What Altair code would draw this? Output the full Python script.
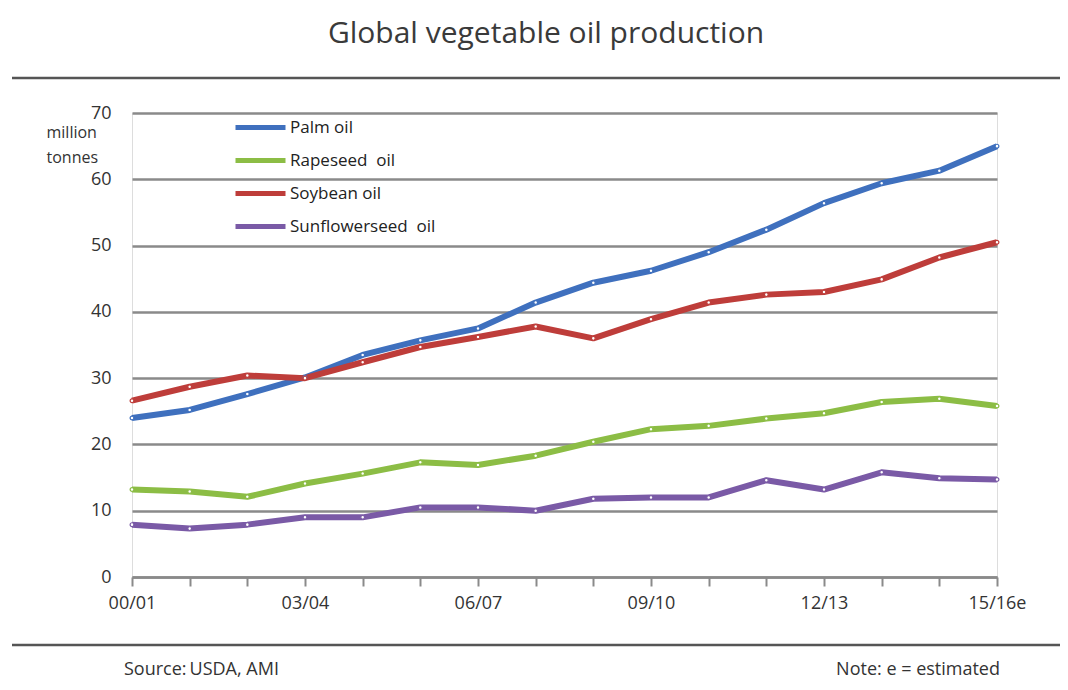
import altair as alt
import pandas as pd

seasons = ["00/01", "01/02", "02/03", "03/04", "04/05", "05/06", "06/07", "07/08",
           "08/09", "09/10", "10/11", "11/12", "12/13", "13/14", "14/15", "15/16e"]
palm = [24.0, 25.2, 27.6, 30.1, 33.5, 35.7, 37.5, 41.4, 44.4, 46.2, 49.0, 52.4, 56.4, 59.4, 61.3, 65.0]
rapeseed = [13.2, 12.9, 12.1, 14.1, 15.6, 17.3, 16.9, 18.3, 20.4, 22.3, 22.8, 23.9, 24.7, 26.4, 26.9, 25.8]
soybean = [26.6, 28.7, 30.4, 30.0, 32.4, 34.7, 36.2, 37.8, 36.0, 38.9, 41.4, 42.6, 43.0, 44.9, 48.2, 50.5]
sunflower = [7.9, 7.3, 7.9, 9.0, 9.0, 10.5, 10.5, 10.0, 11.8, 12.0, 12.0, 14.6, 13.2, 15.8, 14.9, 14.7]

series_names = ["Palm oil", "Rapeseed\u00a0 oil", "Soybean oil", "Sunflowerseed\u00a0 oil"]
series_values = [palm, rapeseed, soybean, sunflower]
series_colors = ["#3f70be", "#8cbd45", "#be3d3a", "#7a5aa6"]

title_text = "Global vegetable oil production"
source_text = "Source:\u2009USDA, AMI"
note_text = "Note: e = estimated"

rows = []
for name, vals in zip(series_names, series_values):
    for i, v in enumerate(vals):
        rows.append({"idx": i, "season": seasons[i], "series": name, "value": v})
df = pd.DataFrame(rows)

labels_js = "[" + ",".join("'%s'" % s for s in seasons) + "]"

W, H = 865, 464
PAD_L, PAD_T = 124, 105
SVG_W, SVG_H = 1052, 674
FONT = "Open Sans"
TXT = "#333333"

x = alt.X("idx:Q",
          scale=alt.Scale(domain=[0, len(seasons) - 1], nice=False, zero=False),
          axis=alt.Axis(values=list(range(len(seasons))),
                        labelExpr="datum.value % 3 == 0 ? " + labels_js + "[datum.value] : ''",
                        title=None, grid=False, domain=True, domainColor="#8a8a8a",
                        domainWidth=2.5, ticks=True, tickColor="#8a8a8a", tickWidth=2,
                        tickSize=9, labelPadding=8, labelFont=FONT,
                        labelFontSize=18, labelColor=TXT, labelFlush=False))
y = alt.Y("value:Q",
          scale=alt.Scale(domain=[0, 70], nice=False),
          axis=alt.Axis(values=list(range(0, 71, 10)), title=["million", "tonnes"],
                        titleAngle=0, titleAlign="left", titleBaseline="middle",
                        titleX=-86, titleY=19, titleFont=FONT, titleFontSize=16,
                        titleFontWeight="normal", titleColor=TXT, titleLineHeight=25,
                        grid=True, gridColor="#8a8a8a", gridWidth=2.5, domain=False,
                        ticks=False, labelPadding=21, labelFont=FONT,
                        labelFontSize=18, labelColor=TXT))

color = alt.Color("series:N",
                  scale=alt.Scale(domain=series_names, range=series_colors),
                  legend=alt.Legend(orient="none", legendX=131, legendY=2, title=None,
                                    symbolType="M-4,0H1", symbolSize=400,
                                    symbolStrokeWidth=5, labelFont=FONT,
                                    labelFontSize=17, labelColor="#222222",
                                    labelOffset=2, rowPadding=10))

lines = alt.Chart(df).mark_line(strokeWidth=6, strokeJoin="round").encode(
    x=x, y=y, color=color, detail="series:N")

points = alt.Chart(df).mark_point(filled=True, fill="white", size=14, strokeWidth=1.2,
                                  opacity=1).encode(
    x=alt.X("idx:Q"), y=alt.Y("value:Q"),
    stroke=alt.Stroke("series:N", scale=alt.Scale(domain=series_names, range=series_colors),
                      legend=None))

rule_df = pd.DataFrame({"k": ["top", "bottom"]})
top_rule = alt.Chart(rule_df).transform_filter("datum.k == 'top'").mark_rule(
    color="#555555", strokeWidth=2.5).encode(
    x=alt.value(-120), x2=alt.value(SVG_W - PAD_L + 10), y=alt.value(-35))
bottom_rule = alt.Chart(rule_df).transform_filter("datum.k == 'bottom'").mark_rule(
    color="#555555", strokeWidth=2.5).encode(
    x=alt.value(-120), x2=alt.value(SVG_W - PAD_L + 10), y=alt.value(532))

text_df = pd.DataFrame({"t": [title_text, source_text, note_text],
                        "k": ["title", "source", "note"]})
title_mark = alt.Chart(text_df).transform_filter("datum.k == 'title'").mark_text(
    font=FONT, fontSize=30, color="#3a3a3a", align="center", baseline="middle").encode(
    text="t:N", x=alt.value(414), y=alt.value(-79))
source_mark = alt.Chart(text_df).transform_filter("datum.k == 'source'").mark_text(
    font=FONT, fontSize=18, color=TXT, align="left", baseline="alphabetic").encode(
    text="t:N", x=alt.value(-8), y=alt.value(562))
note_mark = alt.Chart(text_df).transform_filter("datum.k == 'note'").mark_text(
    font=FONT, fontSize=18, color=TXT, align="right", baseline="alphabetic").encode(
    text="t:N", x=alt.value(868), y=alt.value(562))

chart = alt.layer(lines, points, top_rule, bottom_rule, title_mark, source_mark,
                  note_mark).properties(
    width=W, height=H,
    autosize=alt.AutoSizeParams(type="none"),
    padding={"left": PAD_L, "top": PAD_T, "right": SVG_W - PAD_L - W,
             "bottom": SVG_H - PAD_T - H},
).configure_view(stroke=None).configure(background="white")

chart.save("out.html", embed_options={"renderer": "svg", "actions": False})
